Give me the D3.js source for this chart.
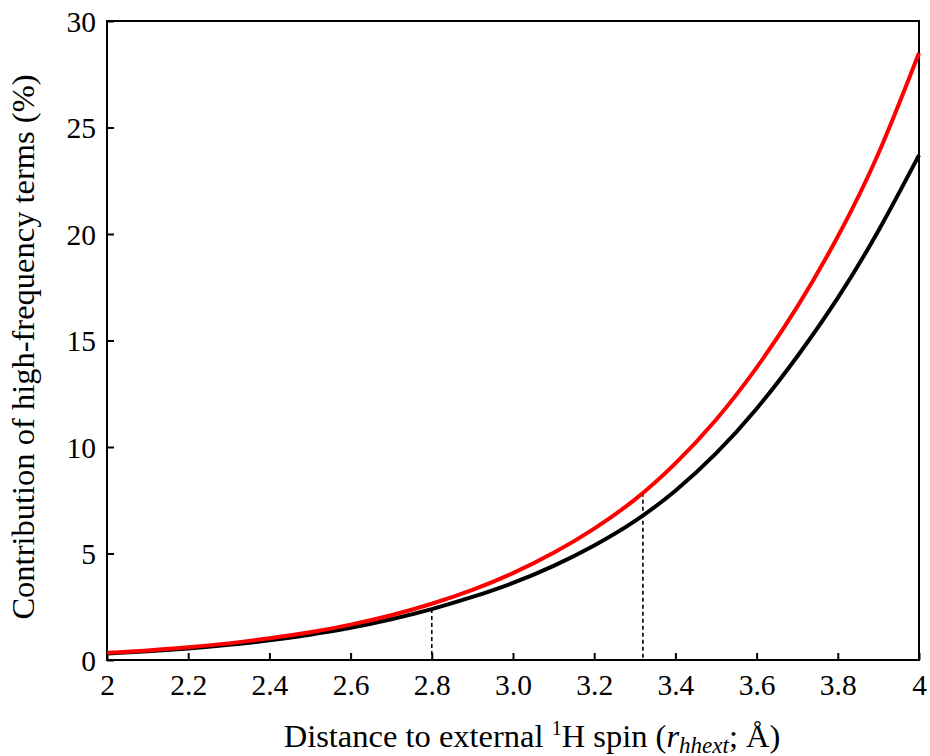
<!DOCTYPE html>
<html>
<head>
<meta charset="utf-8">
<script src="https://cdn.jsdelivr.net/npm/d3@7"></script>
<style>
body{margin:0;background:#fff;}
svg text{font-family:"Liberation Serif","Times New Roman",Times,serif;fill:#000;}
</style>
</head>
<body>
<svg id="chart" width="930" height="756"></svg>
<script>
// distances (Å) where the curves were read
const dist = [2.0, 2.1, 2.2, 2.3, 2.4, 2.5, 2.6, 2.7, 2.8, 2.9, 3.0, 3.1, 3.2, 3.3, 3.4, 3.5, 3.6, 3.7, 3.8, 3.9, 4.0];
const redVals = [0.34, 0.45, 0.60, 0.78, 1.02, 1.30, 1.66, 2.10, 2.64, 3.29, 4.08, 5.03, 6.17, 7.53, 9.23, 11.28, 13.73, 16.58, 19.88, 23.78, 28.5];
const blackVals = [0.30, 0.41, 0.54, 0.71, 0.925, 1.19, 1.51, 1.91, 2.39, 2.96, 3.62, 4.42, 5.38, 6.52, 7.95, 9.7, 11.8, 14.25, 17.0, 20.15, 23.7];
// dashed markers: [x, value]
const markers = [[2.8, 2.39], [3.32, 7.85]];
const xTicks = [2, 2.2, 2.4, 2.6, 2.8, 3.0, 3.2, 3.4, 3.6, 3.8, 4];
const xTickLabels = ['2','2.2','2.4','2.6','2.8','3.0','3.2','3.4','3.6','3.8','4'];
const yTicks = [0, 5, 10, 15, 20, 25, 30];

function drawChart(target){
    let svg = d3.select(target);
    let m = {l:107, r:919, t:21, b:660};
    let x = d3.scaleLinear().domain([2,4]).range([m.l, m.r]);
    let y = d3.scaleLinear().domain([0,30]).range([m.b, m.t]);
    let fs = 29.5;

    // frame (no ticks on top / right)
    svg.append('rect').attr('x', m.l).attr('y', m.t).attr('width', m.r-m.l).attr('height', m.b-m.t)
        .attr('fill','none').attr('stroke','#000').attr('stroke-width',2);

    let xAxis = svg.append('g').attr('transform',`translate(0,${m.b})`)
        .call(d3.axisBottom(x).tickValues(xTicks).tickSizeInner(-7).tickSizeOuter(0).tickPadding(14)
            .tickFormat((d,i)=>xTickLabels[i]));
    let yAxis = svg.append('g').attr('transform',`translate(${m.l},0)`)
        .call(d3.axisLeft(y).tickValues(yTicks).tickSizeInner(-7).tickSizeOuter(0).tickPadding(11));
    [xAxis, yAxis].forEach(a=>{
        a.attr('font-family',null);
        a.select('.domain').remove();
        a.selectAll('line').attr('stroke','#000').attr('stroke-width',2);
        a.selectAll('text').attr('font-size',fs);
    });
    xAxis.selectAll('text').attr('dy','0.71em');
    yAxis.selectAll('text').attr('dy','0.34em');

    // dashed drop lines
    svg.append('g').selectAll('line').data(markers).join('line')
        .attr('x1',d=>x(d[0])).attr('x2',d=>x(d[0]))
        .attr('y1',d=>y(d[1])).attr('y2',y(0))
        .attr('stroke','#000').attr('stroke-width',1.6).attr('stroke-dasharray','4,3');

    let line = d3.line().x((d,i)=>x(dist[i])).y(d=>y(d)).curve(d3.curveNatural);
    svg.append('path').datum(blackVals).attr('d',line).attr('fill','none')
        .attr('stroke','#000').attr('stroke-width',4);
    svg.append('path').datum(redVals).attr('d',line).attr('fill','none')
        .attr('stroke','#ff0000').attr('stroke-width',4);

    // x title
    let tfs = 32.5;
    let xt = svg.append('text').attr('x',532).attr('y',747).attr('text-anchor','middle').attr('font-size',tfs);
    xt.append('tspan').text('Distance to external ');
    xt.append('tspan').attr('font-size',20).attr('dy',-12).text('1');
    xt.append('tspan').attr('dy',12).text('H spin (');
    xt.append('tspan').attr('font-style','italic').text('r');
    xt.append('tspan').attr('font-style','italic').attr('font-size',23).attr('dy',6).text('hhext');
    xt.append('tspan').attr('dy',-6).text('; Å)');

    // y title
    svg.append('text').attr('transform',`translate(34,347) rotate(-90)`)
        .attr('text-anchor','middle').attr('font-size',tfs)
        .text('Contribution of high-frequency terms (%)');
}
drawChart('#chart');
</script>
</body>
</html>
